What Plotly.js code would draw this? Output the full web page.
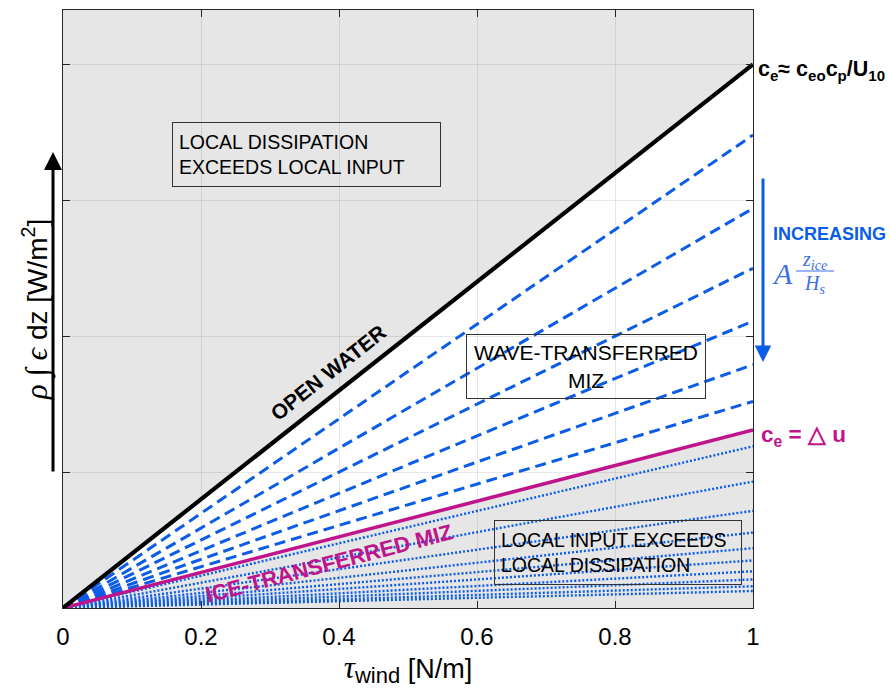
<!DOCTYPE html>
<html><head><meta charset="utf-8">
<script src="https://cdn.plot.ly/plotly-3.0.1.min.js"></script>
<style>html,body{margin:0;padding:0;background:#fff}</style>
</head><body><div id="chart" style="width:890px;height:692px"></div>
<script>
// ---- data ----
const xTicks = [0, 0.2, 0.4, 0.6, 0.8, 1];
const xTickLabels = ['0', '0.2', '0.4', '0.6', '0.8', '1'];
const yTicks = [0, 1, 2, 3, 4];
const xEnds = [0, 1];
const openWaterSlope = 4.0;                                  // c_e ≈ c_eo c_p / U10
const waveSlopes = [3.48, 2.94, 2.50, 2.11, 1.79, 1.52];     // dashed, wave-transferred MIZ
const iceSlope = 1.31;                                       // c_e = Δu
const iceSlopes = [1.19, 0.93, 0.715, 0.555, 0.44, 0.35, 0.27, 0.21, 0.16, 0.125]; // dotted
const yMax = 4.4;

// ---- styles ----
const BLUE = '#0b5ce6';
const MAG = '#c0148c';
const GREY = '#e6e6e6';
const LBLUE = '#3b6fe4';
const FONT = '"Liberation Sans", Arial, Helvetica, sans-serif';
const SERIF = '"Liberation Serif", "DejaVu Serif", serif';

const L = 63, R = 753, T = 10, B = 608;
const px = v => (v - L) / (R - L);
const py = v => (B - v) / (B - T);

const lineTrace = (s, line) => ({
  x: xEnds, y: xEnds.map(x => s * x), type: 'scatter', mode: 'lines',
  line: line, hoverinfo: 'skip', showlegend: false
});

const traces = [];
iceSlopes.forEach(s => traces.push(lineTrace(s, {color: BLUE, width: 2.4, dash: '2px,2px'})));
waveSlopes.forEach(s => traces.push(lineTrace(s, {color: BLUE, width: 3, dash: '11px,6px'})));
traces.push(lineTrace(iceSlope, {color: MAG, width: 3.5}));
traces.push(lineTrace(openWaterSlope, {color: '#000', width: 4.2}));

const shapes = [
  {type: 'path', xref: 'x', yref: 'y', layer: 'below', fillcolor: GREY, line: {width: 0},
   path: `M0,0 L0,${yMax} L1,${yMax} L1,${openWaterSlope} Z`},
  {type: 'path', xref: 'x', yref: 'y', layer: 'below', fillcolor: GREY, line: {width: 0},
   path: `M0,0 L1,${iceSlope} L1,0 Z`},
  {type: 'line', xref: 'paper', yref: 'paper', x0: px(796), x1: px(834), y0: py(271), y1: py(271),
   line: {color: LBLUE, width: 1}}
];

const txt = (text, cx, cy, opts) => Object.assign({
  xref: 'paper', yref: 'paper', x: px(cx), y: py(cy), xanchor: 'center', yanchor: 'middle',
  text: text, showarrow: false
}, opts);

const box = (text, cx, cy, w, h, align, size) => txt(text, cx, cy, {
  align: align, width: w, height: h,
  bordercolor: '#333', borderwidth: 1, borderpad: 6, bgcolor: 'rgba(0,0,0,0)',
  font: {family: FONT, size: size, color: '#000'}
});

const annotations = [
  box('LOCAL DISSIPATION<br>EXCEEDS LOCAL INPUT', 306.5, 154.5, 255, 51, 'left', 19.5),
  box('WAVE-TRANSFERRED<br>MIZ', 585.7, 366.5, 226, 51, 'center', 21),
  box('LOCAL INPUT EXCEEDS<br>LOCAL DISSIPATION', 618, 552.5, 234, 51, 'left', 19.5),
  txt('<b>OPEN WATER</b>', 328, 372, {textangle: -38.3, font: {family: FONT, size: 21, color: '#000'}}),
  txt('<b>ICE-TRANSFERRED MIZ</b>', 329, 563, {textangle: -14.6, font: {family: FONT, size: 22, color: MAG}}),
  txt('<b>c<sub>e</sub>≈ c<sub>eo</sub>c<sub>p</sub>/U<sub>10</sub></b>', 756, 70,
      {xanchor: 'left', font: {family: FONT, size: 21.5, color: '#000'}}),
  txt('<b>c<sub>e</sub> = △ u</b>', 759, 436, {xanchor: 'left', font: {family: FONT, size: 22.5, color: MAG}}),
  txt('<b>INCREASING</b>', 771, 234, {xanchor: 'left', font: {family: FONT, size: 18, color: BLUE}}),
  txt('<i>A</i>', 770, 273, {xanchor: 'left', font: {family: SERIF, size: 30, color: LBLUE}}),
  txt('<i>z<sub>ice</sub></i>', 814, 260, {font: {family: SERIF, size: 20, color: LBLUE}}),
  txt('<i>H<sub>s</sub></i>', 814, 284, {font: {family: SERIF, size: 20, color: LBLUE}}),
  // arrows
  {xref: 'paper', yref: 'paper', x: px(53), y: py(152), ax: 0, ay: 321, text: '', showarrow: true,
   arrowhead: 2, arrowsize: 1.2, arrowwidth: 3, arrowcolor: '#000'},
  {xref: 'paper', yref: 'paper', x: px(763), y: py(362), ax: 0, ay: -185, text: '', showarrow: true,
   arrowhead: 2, arrowsize: 1.1, arrowwidth: 3, arrowcolor: BLUE}
];

const axisCommon = {
  showline: true, linecolor: '#262626', linewidth: 1, mirror: 'allticks',
  ticks: 'inside', ticklen: 7, tickwidth: 1, tickcolor: '#262626',
  showgrid: true, gridcolor: 'rgba(0,0,0,0.09)', gridwidth: 1, zeroline: false
};

const layout = {
  width: 890, height: 692,
  margin: {l: L, r: 890 - R, t: T, b: 692 - B},
  paper_bgcolor: '#fff', plot_bgcolor: '#fff',
  font: {family: FONT, color: '#000'},
  showlegend: false,
  xaxis: Object.assign({}, axisCommon, {
    range: [0, 1], tickmode: 'array', tickvals: xTicks, ticktext: xTickLabels,
    tickfont: {family: FONT, size: 24, color: '#000'}, ticklabelstandoff: 7,
    title: {text: '<span style="font-family:\'Liberation Serif\';font-style:italic;font-size:31px">τ</span><sub><span style="font-size:22px">wind</span></sub> [N/m]',
            font: {family: FONT, size: 27, color: '#000'}, standoff: 0}
  }),
  yaxis: Object.assign({}, axisCommon, {
    range: [0, yMax], tickmode: 'array', tickvals: yTicks, showticklabels: false,
    title: {text: '<span style="font-family:\'Liberation Serif\';font-style:italic;font-size:31px">ρ&nbsp;∫&nbsp;ϵ</span> dz [W/m<sup>2</sup>]',
            font: {family: FONT, size: 28, color: '#000'}, standoff: 6}
  }),
  shapes: shapes,
  annotations: annotations
};

Plotly.newPlot('chart', traces, layout, {displayModeBar: false, staticPlot: true});
</script>
</body></html>
